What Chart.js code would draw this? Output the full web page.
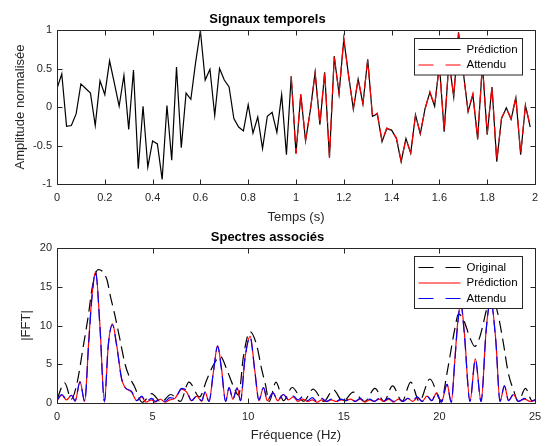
<!DOCTYPE html>
<html>
<head>
<meta charset="utf-8">
<script src="https://cdn.jsdelivr.net/npm/chart.js@4.4.1/dist/chart.umd.min.js"></script>
<style>
    body { margin: 0; background: #fff; }
    #wrap { position: relative; width: 546px; height: 446px; }
    canvas { position: absolute; left: 0; }
</style>
</head>
<body>
<div id="wrap">
    <canvas id="signalChart" width="546" height="225" style="top:0px"></canvas>
    <canvas id="spectrumChart" width="546" height="221" style="top:225px"></canvas>
</div>
<script>
// --- signaux temporels (pas de 0.02 s)
const temps = [
    0.00, 0.02, 0.04, 0.06, 0.08, 0.10, 0.12, 0.14, 0.16, 0.18,
    0.20, 0.22, 0.24, 0.26, 0.28, 0.30, 0.32, 0.34, 0.36, 0.38,
    0.40, 0.42, 0.44, 0.46, 0.48, 0.50, 0.52, 0.54, 0.56, 0.58,
    0.60, 0.62, 0.64, 0.66, 0.68, 0.70, 0.72, 0.74, 0.76, 0.78,
    0.80, 0.82, 0.84, 0.86, 0.88, 0.90, 0.92, 0.94, 0.96, 0.98,
    1.00, 1.02, 1.04, 1.06, 1.08, 1.10, 1.12, 1.14, 1.16, 1.18,
    1.20, 1.22, 1.24, 1.26, 1.28, 1.30, 1.32, 1.34, 1.36, 1.38,
    1.40, 1.42, 1.44, 1.46, 1.48, 1.50, 1.52, 1.54, 1.56, 1.58,
    1.60, 1.62, 1.64, 1.66, 1.68, 1.70, 1.72, 1.74, 1.76, 1.78,
    1.80, 1.82, 1.84, 1.86, 1.88, 1.90, 1.92, 1.94, 1.96, 1.98
];
const prediction = [
    0.24, 0.43, -0.25, -0.24, -0.09, 0.30, 0.24, 0.18, -0.24, 0.34,
    0.16, 0.60, 0.31, 0.01, 0.41, -0.29, 0.48, -0.80, 0.01, -0.78,
    -0.44, -0.48, -0.94, 0.02, -0.69, 0.52, -0.53, 0.18, 0.10, 0.58,
    0.99, 0.35, 0.49, -0.11, 0.50, 0.35, 0.26, -0.15, -0.26, -0.31,
    0.03, -0.34, -0.13, -0.54, -0.12, -0.07, -0.33, 0.16, -0.62, 0.40,
    -0.60, 0.16, -0.44, -0.04, 0.45, -0.23, 0.45, -0.66, 0.66, 0.17,
    0.88, 0.41, -0.03, 0.36, 0.04, 0.62, -0.12, -0.09, -0.45, -0.28,
    -0.30, -0.41, -0.71, -0.41, -0.60, -0.10, -0.35, -0.02, 0.19, 0.01,
    0.55, -0.32, 0.60, 0.13, 0.97, 0.45, -0.06, 0.16, -0.42, 0.55,
    -0.36, 0.26, -0.71, -0.15, -0.01, -0.16, 0.12, -0.62, 0.02, -0.26
];
const tempsAttendu = [
    0.98, 1.00, 1.02, 1.04, 1.06, 1.08, 1.10, 1.12, 1.14, 1.16, 1.18,
    1.20, 1.22, 1.24, 1.26, 1.28, 1.30, 1.32, 1.34, 1.36, 1.38,
    1.40, 1.42, 1.44, 1.46, 1.48, 1.50, 1.52, 1.54, 1.56, 1.58,
    1.60, 1.62, 1.64, 1.66, 1.68, 1.70, 1.72, 1.74, 1.76, 1.78,
    1.80, 1.82, 1.84, 1.86, 1.88, 1.90, 1.92, 1.94, 1.96, 1.98
];
const attendu = [
    0.40, -0.61, 0.17, -0.43, -0.05, 0.44, -0.22, 0.46, -0.65, 0.65, 0.18,
    0.89, 0.40, -0.02, 0.37, 0.05, 0.61, -0.13, -0.08, -0.44, -0.27,
    -0.31, -0.40, -0.70, -0.42, -0.59, -0.11, -0.34, -0.03, 0.20, 0.02,
    0.54, -0.31, 0.61, 0.14, 0.96, 0.44, -0.05, 0.17, -0.41, 0.56,
    -0.35, 0.27, -0.70, -0.14, -0.02, -0.15, 0.13, -0.61, 0.03, -0.25
];
const tempsTicks = [0, 0.2, 0.4, 0.6, 0.8, 1, 1.2, 1.4, 1.6, 1.8, 2];
const amplitudeTicks = [-1, -0.5, 0, 0.5, 1];

// --- spectres
const freqOriginal = [
    0, 0.4, 0.75, 1.05, 1.38, 1.64, 1.85, 2.15, 2.6, 2.8,
    3.03, 3.3, 3.56, 3.8, 4.04, 4.46, 4.95, 5.45, 5.95, 6.45,
    6.9, 7.45, 7.85, 8.2, 8.55, 8.87, 9.2, 9.5, 9.75, 10.1,
    10.45, 10.7, 10.9, 11.1, 11.45, 11.85, 12.3, 12.9, 13.4, 13.95,
    14.45, 14.95, 15.5, 16.1, 16.63, 17.1, 17.55, 18.05, 18.5, 18.95,
    19.5, 20.1, 20.4, 20.64, 20.8, 21.0, 21.3, 21.6, 21.85, 22.1,
    22.3, 22.47, 22.75, 23.05, 23.34, 23.6, 23.87, 24.13, 24.5, 24.85, 25
];
const fftOriginal = [
    0.5, 2.6, 0.5, 2.6, 7.4, 11.3, 15.0, 17.2, 16.0, 13.7,
    11.3, 8.1, 5.0, 3.3, 2.2, 0.1, 1.2, 0.1, 1.1, 0.2,
    2.7, 0.8, 3.1, 5.0, 6.0, 4.4, 2.3, 1.0, 6.0, 9.2,
    7.4, 4.4, 2.4, 0.2, 2.7, 0.3, 2.0, 0.2, 1.8, 0.2,
    1.7, 0.2, 1.4, 0.2, 1.9, 0.2, 2.2, 0.2, 2.7, 0.2,
    3.1, 0.3, 3.9, 7.3, 9.5, 11.5, 10.5, 8.4, 7.3, 8.4,
    10.3, 12.1, 13.8, 11.6, 7.8, 3.9, 1.7, 0.2, 1.9, 0.3, 0.4
];
const freqSpectre = [
    0, 0.25, 0.5, 0.75, 0.95, 1.2, 1.45, 1.65, 1.82, 2.02,
    2.25, 2.48, 2.68, 2.9, 3.12, 3.38, 3.56, 3.9, 4.17, 4.43,
    4.64, 4.95, 5.13, 5.4, 5.65, 5.9, 6.17, 6.52, 6.78, 7.04,
    7.3, 7.57, 7.74, 7.95, 8.18, 8.4, 8.6, 8.82, 9.0, 9.2,
    9.42, 9.6, 9.83, 10.1, 10.35, 10.56, 10.8, 11.0, 11.3, 11.54,
    11.84, 12.1, 12.36, 12.6, 12.85, 13.1, 13.35, 13.6, 13.85, 14.1,
    14.35, 14.6, 14.85, 15.1, 15.35, 15.6, 15.85, 16.1, 16.35, 16.6,
    16.85, 17.1, 17.35, 17.6, 17.85, 18.1, 18.35, 18.6, 18.85, 19.1,
    19.35, 19.6, 19.85, 20.1, 20.4, 20.62, 20.8, 20.95, 21.12, 21.3,
    21.6, 21.88, 22.18, 22.45, 22.68, 22.95, 23.17, 23.4, 23.62, 23.87,
    24.13, 24.45, 24.75, 25
];
const fftPrediction = [
    0.3, 1.0, 0.4, 1.0, 0.2, 2.8, 0.2, 7.6, 13.6, 17.0,
    9.8, 0.1, 7.4, 10.2, 7.5, 3.1, 2.0, 1.4, 0.3, 0.8,
    0.1, 0.4, 0.1, 0.5, 0.1, 0.4, 0.6, 1.8, 1.4, 0.3,
    0.9, 0.2, 1.4, 0.2, 4.0, 7.4, 4.5, 0.2, 2.0, 0.5,
    2.0, 0.3, 5.8, 8.6, 4.1, 0.3, 2.0, 0.3, 1.3, 0.3,
    1.1, 0.4, 0.8, 0.2, 0.5, 0.2, 0.4, 0.1, 0.4, 0.2,
    0.4, 0.2, 0.4, 0.3, 0.5, 0.2, 0.5, 0.1, 0.4, 0.2,
    0.5, 0.2, 0.5, 0.1, 0.5, 0.2, 0.6, 0.2, 0.7, 0.2,
    0.9, 0.3, 1.3, 0.1, 2.4, 0.1, 5.3, 10.2, 13.0, 9.2,
    0.2, 5.7, 0.2, 9.6, 13.4, 8.1, 0.2, 2.2, 0.3, 1.1,
    0.2, 0.5, 0.2, 0.3
];
const fftAttendu = [
    0.4, 1.1, 0.5, 1.0, 0.3, 2.7, 0.2, 7.4, 13.4, 16.9,
    9.6, 0.2, 7.4, 10.1, 7.4, 3.1, 2.0, 1.5, 0.3, 0.9,
    0.2, 0.6, 0.2, 0.5, 0.2, 0.7, 0.6, 1.9, 1.6, 0.3,
    0.9, 0.3, 1.4, 0.2, 4.0, 7.3, 4.4, 0.2, 2.0, 0.5,
    1.9, 0.3, 5.7, 8.5, 4.0, 0.4, 2.0, 0.4, 1.3, 0.4,
    1.1, 0.5, 0.9, 0.4, 0.8, 0.3, 0.7, 0.2, 0.6, 0.2,
    0.5, 0.2, 0.5, 0.3, 0.6, 0.2, 0.6, 0.2, 0.5, 0.2,
    0.6, 0.3, 0.6, 0.2, 0.6, 0.2, 0.6, 0.3, 0.8, 0.2,
    0.9, 0.3, 1.3, 0.1, 2.4, 0.1, 5.2, 10.0, 12.8, 9.0,
    0.2, 5.6, 0.2, 9.5, 13.2, 8.0, 0.2, 2.2, 0.3, 1.1,
    0.2, 0.6, 0.2, 0.4
];
const freqTicks = [0, 5, 10, 15, 20, 25];
const fftTicks = [0, 5, 10, 15, 20];


const axisColor = '#262626';
Chart.defaults.font.family = '"Liberation Sans", Arial, Helvetica, sans-serif';
Chart.defaults.color = axisColor;


function toPoints(xs, ys)
{
    return xs.map((x, i) => ({ x: x, y: ys[i] }));
}

function fmt(v)
{
    return String(Math.round(v * 100) / 100);
}

// boite matlab + graduations vers l'interieur
const axesBox = {
    id: 'axesBox',
    afterDatasetsDraw(chart) {
        const ctx = chart.ctx;
        const a = chart.chartArea;
        const sx = chart.scales.x, sy = chart.scales.y;
        const L = Math.round(a.left) + 0.5, R = Math.round(a.right) + 0.5;
        const T = Math.round(a.top) + 0.5, B = Math.round(a.bottom) + 0.5;
        ctx.save();
        ctx.strokeStyle = axisColor;
        ctx.lineWidth = 1;
        ctx.setLineDash([]);
        ctx.beginPath();
        sx.ticks.forEach(t => {
            let px = Math.round(sx.getPixelForValue(t.value)) + 0.5;
            ctx.moveTo(px, B); ctx.lineTo(px, B - 5);
            ctx.moveTo(px, T); ctx.lineTo(px, T + 5);
        });
        sy.ticks.forEach(t => {
            let py = Math.round(sy.getPixelForValue(t.value)) + 0.5;
            ctx.moveTo(L, py); ctx.lineTo(L + 5, py);
            ctx.moveTo(R, py); ctx.lineTo(R - 5, py);
        });
        ctx.rect(L, T, R - L, B - T);
        ctx.stroke();
        ctx.restore();
    }
};

// legende encadree en haut a droite
const boxedLegend = {
    id: 'boxedLegend',
    afterDraw(chart) {
        const ctx = chart.ctx;
        const a = chart.chartArea;
        const sets = chart.data.datasets;
        const w = 108, rowH = 15.5;
        const h = 21 + (sets.length - 1) * rowH;
        const x = Math.round(a.right - 13 - w) + 0.5;
        const y = Math.round(a.top + 8) + 0.5;
        ctx.save();
        ctx.fillStyle = '#fff';
        ctx.fillRect(x, y, w, h);
        ctx.strokeStyle = axisColor;
        ctx.lineWidth = 1;
        ctx.strokeRect(x, y, w, h);
        ctx.font = '11.5px "Liberation Sans", Arial, sans-serif';
        ctx.textBaseline = 'middle';
        sets.forEach((ds, i) => {
            let cy = y + 11 + i * rowH;
            ctx.strokeStyle = ds.borderColor;
            ctx.lineWidth = ds.borderWidth;
            ctx.setLineDash(ds.borderDash ? [15, 12] : []);
            ctx.beginPath();
            ctx.moveTo(x + 4, cy);
            ctx.lineTo(x + 46, cy);
            ctx.stroke();
            ctx.setLineDash([]);
            ctx.fillStyle = '#000';
            ctx.fillText(ds.label, x + 52, cy);
        });
        ctx.restore();
    }
};


function axisOptions(min, max, ticks, title, titlePad, size, isX)
{
    return {
        type: 'linear',
        min: min,
        max: max,
        grid: { display: false, drawTicks: false },
        border: { display: false },
        afterBuildTicks: (axis) => { axis.ticks = ticks.map(v => ({ value: v })); },
        afterFit: (axis) => {
            if (isX) {
                axis.height = size;
                axis.paddingLeft = 0;
                axis.paddingRight = 0;
            } else {
                axis.width = size;
                axis.paddingTop = 0;
                axis.paddingBottom = 0;
            }
        },
        ticks: {
            autoSkip: false,
            maxRotation: 0,
            padding: isX ? 7 : 5,
            font: { size: 11 },
            color: axisColor,
            callback: (v) => fmt(v)
        },
        title: {
            display: true,
            text: title,
            color: axisColor,
            font: { size: 13 },
            padding: titlePad
        }
    };
}


function drawSignalChart()
{
    const ctx = document.getElementById('signalChart').getContext('2d');

    new Chart(ctx, {
        type: 'line',
        data: {
            datasets: [{
                label: 'Prédiction',
                data: toPoints(temps, prediction),
                borderColor: '#000000',
                borderWidth: 1.2,
                order: 1
            }, {
                label: 'Attendu',
                data: toPoints(tempsAttendu, attendu),
                borderColor: '#ff0000',
                borderWidth: 1.2,
                borderDash: [12, 6],
                order: 0
            }]
        },
        options: {
            responsive: false,
            animation: false,
            devicePixelRatio: 1,
            layout: { padding: { left: 0, right: 11, top: 0, bottom: 0 } },
            elements: { point: { radius: 0 }, line: { tension: 0 } },
            scales: {
                x: axisOptions(0, 2, tempsTicks, 'Temps (s)', { top: 0, bottom: 0 }, 41, true),
                y: axisOptions(-1, 1, amplitudeTicks, 'Amplitude normalisée', { top: 13, bottom: 0 }, 57, false)
            },
            plugins: {
                legend: { display: false },
                tooltip: { enabled: false },
                title: {
                    display: true,
                    text: 'Signaux temporels',
                    color: '#000',
                    font: { size: 13, weight: 'bold' },
                    padding: { top: 11.2, bottom: 3.2 }
                }
            }
        },
        plugins: [axesBox, boxedLegend]
    });
}


function drawSpectrumChart()
{
    const ctx = document.getElementById('spectrumChart').getContext('2d');

    new Chart(ctx, {
        type: 'line',
        data: {
            datasets: [{
                label: 'Original',
                data: toPoints(freqOriginal, fftOriginal),
                borderColor: '#000000',
                borderWidth: 1.2,
                borderDash: [12, 6],
                order: 2
            }, {
                label: 'Prédiction',
                data: toPoints(freqSpectre, fftPrediction),
                borderColor: '#ff0000',
                borderWidth: 1.2,
                order: 1
            }, {
                label: 'Attendu',
                data: toPoints(freqSpectre, fftAttendu),
                borderColor: '#0000ff',
                borderWidth: 1.2,
                borderDash: [12, 6],
                order: 0
            }]
        },
        options: {
            responsive: false,
            animation: false,
            devicePixelRatio: 1,
            layout: { padding: { left: 0, right: 11, top: 0, bottom: 0 } },
            elements: { point: { radius: 0 }, line: { cubicInterpolationMode: 'monotone' } },
            scales: {
                x: axisOptions(0, 25, freqTicks, 'Fréquence (Hz)', { top: 0, bottom: 2.4 }, 43, true),
                y: axisOptions(0, 20, fftTicks, '|FFT|', { top: 19, bottom: 0 }, 57, false)
            },
            plugins: {
                legend: { display: false },
                tooltip: { enabled: false },
                title: {
                    display: true,
                    text: 'Spectres associés',
                    color: '#000',
                    font: { size: 13, weight: 'bold' },
                    padding: { top: 4.7, bottom: 2.7 }
                }
            }
        },
        plugins: [axesBox, boxedLegend]
    });
}


drawSignalChart();
drawSpectrumChart();
</script>
</body>
</html>
